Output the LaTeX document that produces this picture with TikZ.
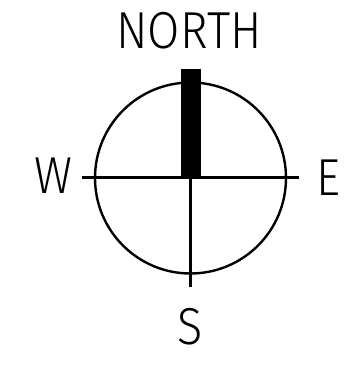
\documentclass[tikz,border=0pt]{standalone}
\usepackage{fontspec}
\newfontfamily\lab{Fira Sans Light}
\begin{document}
\begin{tikzpicture}[x=1pt,y=-1pt,
  stroke/.style={line width=2.4pt,black},
  label/.style={font=\lab\fontsize{52}{52}\selectfont,inner sep=0pt,anchor=base,xscale=0.9}]
\useasboundingbox (0,0) rectangle (348,370);
\node[stroke,draw,circle,minimum size=191pt,inner sep=0pt] (ring) at (190.5,178) {};
\coordinate (c) at (190.5,177.5);
\coordinate (wend) at (82,177.5);
\coordinate (eend) at (299,177.5);
\coordinate (send) at (190.5,287);
\draw[stroke] (wend) -- (eend);
\draw[stroke] (c) -- (send);
\fill[black] (180.7,69) rectangle (200.7,177.5);
\node[label] (north) at (189,48) {NORTH};
\node[label] (west) at (53,193) {W};
\node[label] (east) at (328,195) {E};
\node[label] (south) at (190,344) {S};
\end{tikzpicture}
\end{document}
